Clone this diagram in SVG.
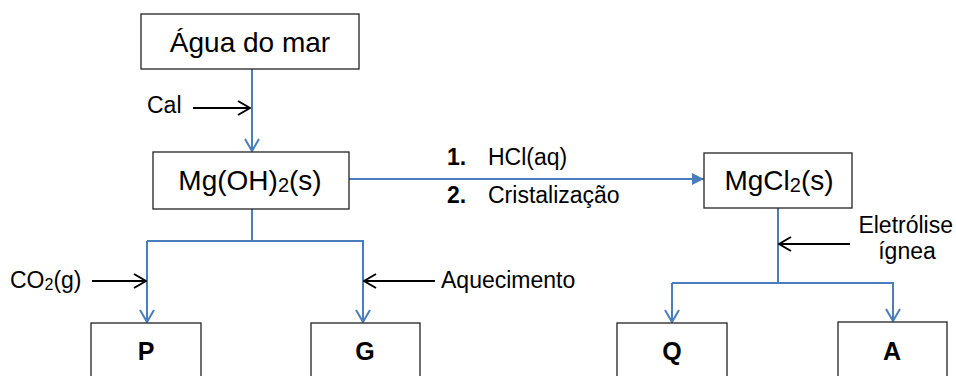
<svg xmlns="http://www.w3.org/2000/svg" width="956" height="376" viewBox="0 0 956 376">
<defs>
<style>
.box{fill:#fff;stroke:#222;stroke-width:1.3}
.t{font-family:"Liberation Sans",Arial,sans-serif;fill:#000}
.big{font-size:28px}
.lab{font-size:23px}
.bold{font-weight:bold;font-size:25px}
.blue{stroke:#4a7ebb;stroke-width:2;fill:none}
.blk{stroke:#000;stroke-width:2;fill:none}
</style>
<marker id="vb" viewBox="0 0 14 16" refX="13" refY="8" markerWidth="14" markerHeight="16" markerUnits="userSpaceOnUse" orient="auto">
<path d="M1,1 L13,8 L1,15" fill="none" stroke="#4a7ebb" stroke-width="2"/>
</marker>
<marker id="fb" viewBox="0 0 12 12" refX="12" refY="6" markerWidth="12" markerHeight="12" markerUnits="userSpaceOnUse" orient="auto">
<path d="M0,0 L12,6 L0,12 Z" fill="#4a7ebb"/>
</marker>
<marker id="vk" viewBox="0 0 14 16" refX="13" refY="8" markerWidth="14" markerHeight="16" markerUnits="userSpaceOnUse" orient="auto">
<path d="M1,1 L13,8 L1,15" fill="none" stroke="#000" stroke-width="2"/>
</marker>
</defs>
<g id="connectors">
<line class="blue" x1="252" y1="69" x2="252" y2="151" marker-end="url(#vb)"/>
<line class="blk" x1="193" y1="108" x2="250" y2="108" marker-end="url(#vk)"/>
<line class="blue" x1="349" y1="179" x2="704" y2="179" marker-end="url(#fb)"/>
<polyline class="blue" points="252,209 252,241"/>
<polyline class="blue" points="147,241 363,241 363,322" marker-end="url(#vb)"/>
<line class="blue" x1="147" y1="241" x2="147" y2="322" marker-end="url(#vb)"/>
<line class="blk" x1="92" y1="281" x2="146" y2="281" marker-end="url(#vk)"/>
<line class="blk" x1="435" y1="281" x2="364" y2="281" marker-end="url(#vk)"/>
<polyline class="blue" points="778,208 778,283"/>
<polyline class="blue" points="672,283 893,283 893,321" marker-end="url(#vb)"/>
<line class="blue" x1="672" y1="283" x2="672" y2="322" marker-end="url(#vb)"/>
<line class="blk" x1="850" y1="244" x2="779" y2="244" marker-end="url(#vk)"/>
</g>
<g id="agua">
<rect class="box" x="141" y="14" width="218" height="55"/>
<text class="t big" x="250" y="52" text-anchor="middle">Água do mar</text>
</g>
<g id="mgoh2">
<rect class="box" x="153" y="152" width="196" height="57"/>
<text class="t big" x="250" y="190" text-anchor="middle">Mg(OH)<tspan font-size="20" dy="2">2</tspan><tspan dy="-2">(s)</tspan></text>
</g>
<g id="mgcl2">
<rect class="box" x="704" y="153" width="148" height="55"/>
<text class="t big" x="779" y="190" text-anchor="middle">MgCl<tspan font-size="20" dy="2">2</tspan><tspan dy="-2">(s)</tspan></text>
</g>
<g id="P">
<rect class="box" x="91" y="323" width="110" height="60"/>
<text class="t bold" x="146" y="360" text-anchor="middle">P</text>
</g>
<g id="G">
<rect class="box" x="311" y="323" width="109" height="60"/>
<text class="t bold" x="365" y="360" text-anchor="middle">G</text>
</g>
<g id="Q">
<rect class="box" x="617" y="323" width="110" height="60"/>
<text class="t bold" x="672" y="360" text-anchor="middle">Q</text>
</g>
<g id="A">
<rect class="box" x="838" y="322" width="109" height="60"/>
<text class="t bold" x="892" y="360" text-anchor="middle">A</text>
</g>
<g id="labels">
<text class="t lab" x="147" y="113">Cal</text>
<text class="t lab" x="447" y="165" font-weight="bold">1.</text>
<text class="t lab" x="488" y="165">HCl(aq)</text>
<text class="t lab" x="447" y="203" font-weight="bold">2.</text>
<text class="t lab" x="488" y="203">Cristalização</text>
<text class="t lab" x="10" y="288">CO<tspan font-size="16" dy="2">2</tspan><tspan dy="-2">(g)</tspan></text>
<text class="t lab" x="441" y="288">Aquecimento</text>
<text class="t lab" x="953" y="233" text-anchor="end">Eletrólise</text>
<text class="t lab" x="907" y="259" text-anchor="middle">ígnea</text>
</g>
</svg>
